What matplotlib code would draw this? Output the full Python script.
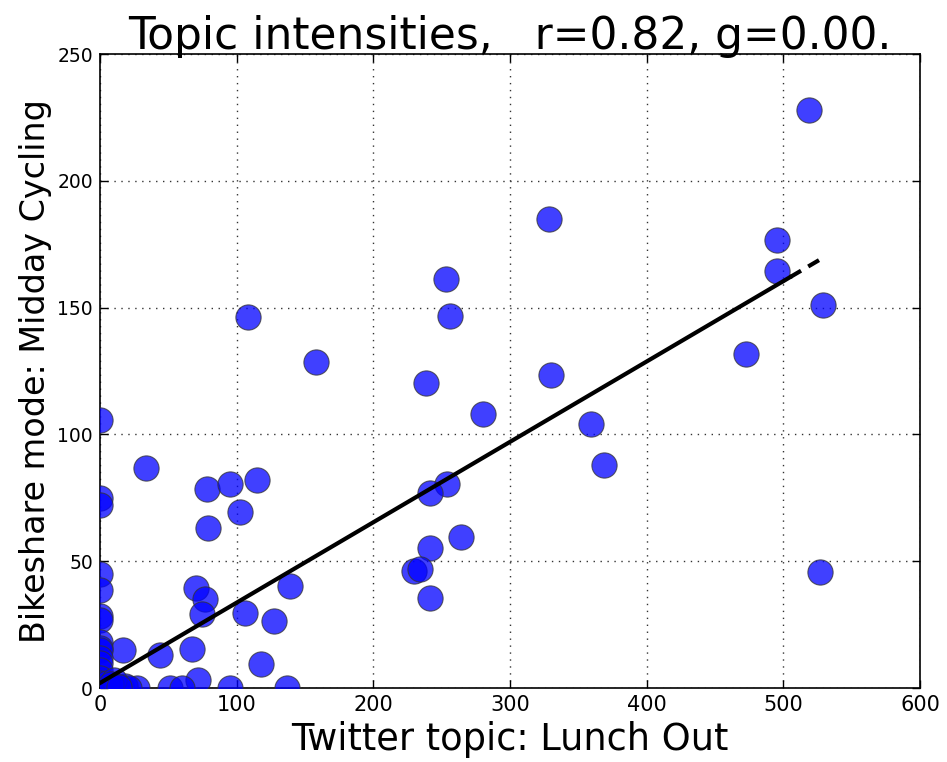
import matplotlib
matplotlib.use('Agg')
import matplotlib.pyplot as plt
import numpy as np

# twitter topic intensity (x) vs bikeshare mode intensity (y) per station
lunch_out = [519, 328.5, 495, 495, 253, 256, 108.3, 529, 158, 472.7,
             238.5, 330, 280, 359, 368.7, 33.6, 78, 95, 114.6, 102.4,
             79.3, 254, 241.5, 241.5, 264, 229.5, 234, 241.5, 527, 70.2,
             76.8, 74.8, 106, 139, 127.3, 17, 44, 67, 117.6, 71.7,
             26.8, 51.2, 59.8, 95, 136.8,
             0, 0, 0, 0, 0, 0, 0, 0, 0, 0, 0, 0, 0, 0, 0, 0,
             3, 6, 9, 12, 15, 18, 21, 5, 10, 8, 14]
midday_cycling = [228, 185, 176.7, 164.5, 161.3, 146.7, 146.4, 151, 128.6, 131.8,
                  120.3, 123.5, 108, 104, 88, 86.8, 78.5, 80.5, 82, 69.4,
                  63.2, 80.5, 77, 55.2, 59.6, 46, 47, 35.5, 45.8, 39.4,
                  35, 29.2, 29.6, 40.2, 26.5, 15, 13, 15.4, 9.5, 3.2,
                  0, 0, 0, 0, 0,
                  105.7, 75, 72, 45, 38.7, 28.5, 26.8, 18, 16, 15, 12, 10, 7, 4, 2, 0,
                  0, 0.5, 1, 0, 0.5, 1, 0, 2, 3, 1.5, 0.5]

# least squares line: solid over the bulk of the data, dashed to the max
fit_slope = 0.317
fit_intercept = 2.0
solid_end = 505
dashed_end = 530

plt.rcParams['font.family'] = 'DejaVu Sans'
fig = plt.figure(figsize=(9.47, 7.62), dpi=100)
ax = fig.add_axes([0.1056, 0.097, 0.866, 0.832])

ax.scatter(lunch_out, midday_cycling, s=330, c='#0000ff', alpha=0.75,
           edgecolors='#333333', linewidths=0.8, zorder=3, clip_on=True)

xs = np.array([0, solid_end])
ax.plot(xs, fit_intercept + fit_slope * xs, color='k', lw=3, zorder=4)
xd = np.array([solid_end, dashed_end])
ax.plot(xd, fit_intercept + fit_slope * xd, color='k', lw=3, ls='--',
        dashes=(3, 2), zorder=4)

ax.set_xlim(0, 600)
ax.set_ylim(0, 250)
ax.set_xticks(np.arange(0, 601, 100))
ax.set_yticks(np.arange(0, 251, 50))
ax.grid(True, ls=(0, (1, 4)), color='#333333', lw=1.0)
ax.set_axisbelow(True)
ax.tick_params(direction='in', top=True, right=True, length=6, width=1)
ax.tick_params(axis='x', labelsize=15, pad=5)
ax.tick_params(axis='y', labelsize=13.5, pad=5)
for sp in ax.spines.values():
    sp.set_linewidth(1.2)

ax.set_title('Topic intensities,   r=0.82, g=0.00.', fontsize=31.6, pad=4)
ax.set_xlabel('Twitter topic: Lunch Out', fontsize=26.5, labelpad=4)
ax.set_ylabel('Bikeshare mode: Midday Cycling', fontsize=24, labelpad=4)

fig.savefig('out.png', dpi=100)
